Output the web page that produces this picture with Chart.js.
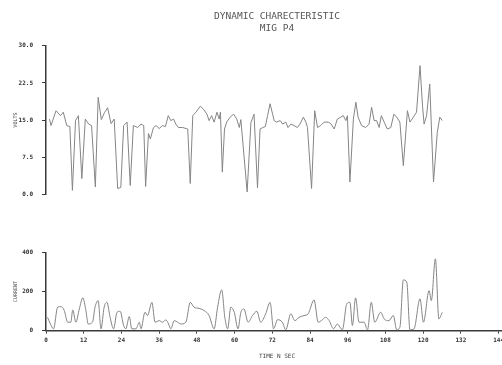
<!DOCTYPE html>
<html>
<head>
<meta charset="utf-8">
<script src="https://cdn.jsdelivr.net/npm/chart.js@4/dist/chart.umd.min.js"></script>
<style>
  html, body { margin: 0; padding: 0; background: #fff; overflow: hidden; width: 502px; height: 365px; }
  .box { position: absolute; left: 0; width: 510px; }
  #top-box { top: 0; height: 207px; }
  #bottom-box { top: 240px; height: 122px; }
</style>
</head>
<body>
<div class="box" id="top-box"><canvas id="volts-chart"></canvas></div>
<div class="box" id="bottom-box"><canvas id="current-chart"></canvas></div>
<script>
// Volts trace (time in sec, volts)
const voltTime = [1.1, 1.6, 3.2, 4.6, 5.5, 6.6, 7.6, 8.4, 9.4, 10.3, 11.4, 12.5, 13.6, 14.5, 15.7, 16.6, 17.6, 18.6, 19.6, 20.7,
  21.7, 22.8, 23.8, 24.7, 25.8, 26.8, 27.8, 29.2, 30.2, 31.1, 31.7, 32.6, 33.2, 34.2, 35.0, 36.0, 37.1, 38.0, 38.9, 39.7,
  40.6, 41.3, 42.1, 43.5, 45.1, 45.9, 46.7, 47.7, 49.1, 50.1, 51.2, 51.9, 52.7, 53.5, 54.4, 55.1, 55.5, 56.1, 56.8, 57.5,
  58.6, 59.7, 60.7, 61.5, 62.0, 64.0, 65.2, 66.2, 67.3, 68.1, 69.0, 69.8, 70.5, 71.3, 72.1, 72.6, 73.4, 74.5, 75.3, 76.3,
  77.0, 77.9, 78.9, 80.0, 80.8, 81.9, 82.7, 83.2, 84.5, 85.5, 86.4, 87.4, 88.5, 89.8, 90.6, 91.7, 92.7, 93.8, 94.6, 95.4,
  95.9, 96.7, 97.8, 98.6, 99.3, 100.4, 101.7, 102.8, 103.6, 104.4, 105.2, 106.0, 106.7, 107.6, 108.6, 109.7, 110.7, 111.6, 112.6, 113.7,
  115.0, 115.8, 116.9, 117.9, 119.0, 119.8, 120.3, 121.1, 122.1, 123.3, 124.5, 125.3, 126.1]
const voltValue = [15.2, 13.9, 16.9, 15.9, 16.6, 13.9, 13.7, 0.8, 14.9, 15.9, 3.2, 15.2, 14.2, 13.9, 1.5, 19.6, 15.1, 16.5, 17.5, 14.3,
  15.2, 1.2, 1.4, 13.9, 14.6, 1.8, 13.9, 13.5, 14.2, 13.9, 1.6, 12.3, 11.2, 13.5, 13.9, 13.3, 13.9, 13.7, 15.9, 14.9,
  15.2, 14.2, 13.5, 13.5, 13.2, 2.2, 15.9, 16.6, 17.8, 17.2, 16.2, 14.9, 15.9, 14.6, 16.6, 15.2, 16.6, 4.5, 13.2, 14.6,
  15.6, 16.2, 15.2, 13.5, 15.1, 0.5, 14.5, 16.2, 1.3, 13.2, 13.5, 13.7, 15.9, 18.3, 16.2, 14.9, 14.6, 14.9, 14.2, 14.6,
  13.5, 14.2, 13.9, 13.5, 14.2, 15.6, 14.6, 13.5, 1.2, 16.9, 13.5, 13.9, 14.6, 14.6, 14.3, 13.2, 15.2, 15.6, 15.9, 14.9,
  15.9, 2.5, 15.2, 18.6, 15.6, 13.9, 13.5, 14.2, 17.6, 14.9, 14.9, 13.5, 15.9, 14.6, 13.2, 13.5, 16.2, 15.6, 14.6, 5.8,
  16.9, 14.6, 15.6, 16.6, 26.0, 17.9, 14.2, 15.9, 22.3, 2.5, 12.5, 15.6, 14.9]

// Current trace (time in sec, amps)
const currentTime = [0.5, 1.4, 2.4, 3.7, 4.8, 5.8, 6.9, 7.9, 8.5, 9.5, 10.6, 11.7, 12.7, 13.4, 14.8, 15.6, 16.6, 17.5, 18.5, 19.4,
  20.4, 21.5, 22.6, 23.6, 24.7, 25.4, 26.5, 27.3, 28.6, 29.7, 30.2, 31.5, 32.3, 33.7, 34.7, 36.0, 37.1, 38.1, 39.0, 39.7,
  40.8, 41.9, 42.9, 44.5, 45.9, 47.1, 48.7, 50.3, 51.9, 53.5, 54.6, 55.9, 56.9, 57.8, 58.8, 59.9, 61.1, 62.0, 63.0, 64.3,
  65.7, 67.1, 68.3, 69.9, 71.3, 72.4, 73.7, 75.2, 76.3, 77.9, 79.2, 80.5, 82.1, 83.4, 85.3, 86.6, 87.6, 89.0, 90.1, 91.5,
  92.7, 94.3, 95.7, 96.7, 97.5, 98.5, 99.6, 101.2, 102.3, 103.5, 104.6, 106.5, 107.6, 109.1, 110.5, 111.6, 112.6, 113.7, 114.8, 115.8,
  117.1, 119.0, 120.1, 121.9, 122.6, 123.9, 125.0, 126.1]
const currentValue = [68, 34, 9, 120, 123, 103, 43, 43, 106, 43, 111, 168, 103, 34, 43, 120, 154, 9, 120, 145,
  68, 9, 94, 99, 26, 9, 72, 9, 9, 43, 9, 94, 77, 145, 43, 51, 43, 55, 34, 9,
  51, 43, 34, 43, 145, 120, 114, 103, 77, 9, 120, 209, 68, 9, 120, 94, 9, 94, 111, 43,
  77, 99, 43, 86, 145, 9, 56, 43, 4, 86, 51, 68, 77, 86, 157, 43, 51, 68, 51, 9,
  34, 4, 137, 145, 26, 168, 43, 43, 4, 145, 43, 94, 60, 51, 77, 4, 17, 260, 248, 4,
  9, 163, 43, 205, 154, 368, 60, 94]

// Axis ticks
const voltTicks = [0, 7.5, 15, 22.5, 30]
const currentTicks = [0, 200, 400]
const timeTicks = [0, 12, 24, 36, 48, 60, 72, 84, 96, 108, 120, 132, 144]

const toPoints = (xs, ys) => xs.map((x, i) => ({ x: x, y: ys[i] }))

const mono = "'DejaVu Sans Mono', monospace"
const tickFont = { family: mono, size: 6, weight: "bold" }
const lineColor = "#858585"
const axisColor = "#3a3a3a"

const xScale = (show) => ({
  type: "linear",
  min: 0,
  max: 147,
  display: show,
  afterBuildTicks: (s) => { s.ticks = timeTicks.map((v) => ({ value: v })) },
  border: { display: true, color: axisColor, width: 1.5 },
  grid: { drawOnChartArea: false, drawTicks: true, tickLength: 3, color: axisColor },
  ticks: { font: tickFont, color: "#333", padding: 3, maxRotation: 0, includeBounds: false },
  title: {
    display: show,
    text: "TIME N SEC",
    font: { family: mono, size: 6 },
    color: "#444",
    padding: { top: 6, bottom: 2 },
  },
})

const yScale = (ticks, max, label, fmt) => ({
  type: "linear",
  min: 0,
  max: max,
  afterBuildTicks: (s) => { s.ticks = ticks.map((v) => ({ value: v })) },
  afterFit: (s) => { s.width = 46 },
  border: { display: true, color: axisColor, width: 1.5 },
  grid: { drawOnChartArea: false, drawTicks: true, tickLength: 4, color: axisColor },
  ticks: { font: tickFont, color: "#333", padding: 9, callback: fmt },
  title: {
    display: true,
    text: label,
    font: { family: mono, size: 5 },
    color: "#444",
    padding: { top: 13, bottom: 0 },
  },
})

document.addEventListener("DOMContentLoaded", () => {
  // Volts chart
  new Chart(document.getElementById("volts-chart"), {
    type: "line",
    data: {
      datasets: [{
        data: toPoints(voltTime, voltValue),
        borderColor: lineColor,
        borderWidth: 1,
        pointRadius: 0,
        tension: 0,
      }],
    },
    options: {
      responsive: true,
      maintainAspectRatio: false,
      animation: false,
      layout: { padding: { top: 0, right: 2, bottom: 2, left: 0 } },
      plugins: {
        legend: { display: false },
        tooltip: { enabled: false },
        title: {
          display: true,
          fullSize: false,
          text: ["DYNAMIC CHARECTERISTIC", "MIG P4"],
          font: { family: mono, size: 9.5, weight: "normal", lineHeight: 1.2 },
          color: "#555",
          padding: { top: 11, bottom: 12 },
        },
      },
      scales: {
        x: xScale(false),
        y: yScale(voltTicks, 30, "VOLTS", (v) => v.toFixed(1)),
      },
    },
  })

  // Current chart
  new Chart(document.getElementById("current-chart"), {
    type: "line",
    data: {
      datasets: [{
        data: toPoints(currentTime, currentValue),
        borderColor: lineColor,
        borderWidth: 1,
        pointRadius: 0,
        cubicInterpolationMode: "monotone",
      }],
    },
    options: {
      responsive: true,
      maintainAspectRatio: false,
      animation: false,
      layout: { padding: { top: 8, right: 2, bottom: 0, left: 0 } },
      plugins: {
        legend: { display: false },
        tooltip: { enabled: false },
      },
      scales: {
        x: xScale(true),
        y: yScale(currentTicks, 400, "CURRENT", (v) => String(v)),
      },
    },
  })
})
</script>
</body>
</html>
